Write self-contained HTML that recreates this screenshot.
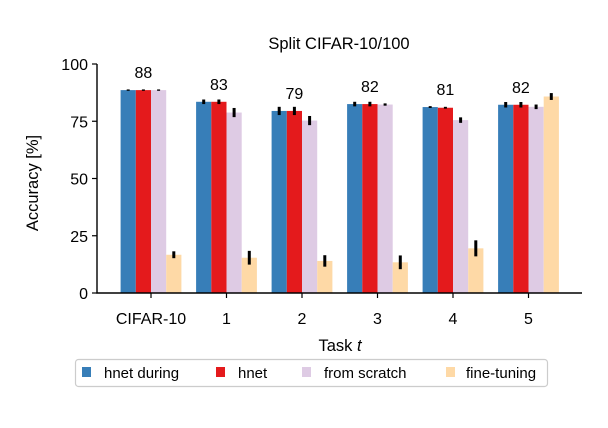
<!DOCTYPE html>
<html><head><meta charset="utf-8"><style>
body{margin:0;background:#fff}
svg text{font-family:"Liberation Sans",sans-serif;fill:#000}
</style></head><body>
<svg id="c" width="608" height="423" viewBox="0 0 608 423">
<text x="339" y="49" font-size="16.5" text-anchor="middle">Split CIFAR-10/100</text>
<g id="plot"></g>
<text x="340" y="351" font-size="16.5" text-anchor="middle">Task <tspan font-style="italic">t</tspan></text>
<text transform="translate(38,183) rotate(-90)" font-size="16.5" text-anchor="middle">Accuracy [%]</text>
<g>
<rect x="75.5" y="359.5" width="472" height="27" rx="3" fill="#fff" stroke="#ccc" stroke-width="1.2"/>
<rect x="82" y="367" width="9" height="10" fill="#377eb8"/><text x="104" y="378" font-size="15">hnet during</text>
<rect x="216" y="367" width="9" height="10" fill="#e41a1c"/><text x="238" y="378" font-size="15">hnet</text>
<rect x="302" y="367" width="9" height="10" fill="#decbe4"/><text x="324" y="378" font-size="15">from scratch</text>
<rect x="446" y="367" width="9" height="10" fill="#fed9a6"/><text x="466" y="378" font-size="15">fine-tuning</text>
</g>
</svg>
<script>
const categories=["CIFAR-10","1","2","3","4","5"];
const hnetDuring=[88.6,83.5,79.5,82.5,81.2,82.2];
const hnet=[88.6,83.5,79.5,82.5,80.9,82.2];
const fromScratch=[88.6,78.8,75.3,82.3,75.5,81.3];
const fineTuning=[16.7,15.4,14.0,13.4,19.5,85.8];
const errDuring=[0.3,1.0,1.8,1.0,0.4,1.2];
const errHnet=[0.3,1.0,1.8,1.0,0.4,1.2];
const errScratch=[0.3,2.0,2.0,0.5,1.2,1.0];
const errFine=[1.5,3.0,2.5,3.0,3.5,1.5];
const topLabels=["88","83","79","82","81","82"];
const yTicks=[0,25,50,75,100];
const series=[[hnetDuring,errDuring,"#377eb8","hnet-during"],[hnet,errHnet,"#e41a1c","hnet"],[fromScratch,errScratch,"#decbe4","from-scratch"],[fineTuning,errFine,"#fed9a6","fine-tuning"]];
const NS="http://www.w3.org/2000/svg";
const g=document.getElementById("plot");
const y=v=>293-v*2.29;
const xc=i=>151+i*75.5;
const bw=15.2;
function mk(t,a){const e=document.createElementNS(NS,t);for(const k in a)e.setAttribute(k,a[k]);g.appendChild(e);return e;}
categories.forEach((c,i)=>{
  series.forEach((s,j)=>{
    const x0=xc(i)-2*bw+j*bw,v=s[0][i],er=s[1][i];
    const r=mk("rect",{x:x0,y:y(v),width:bw,height:y(0)-y(v),fill:s[2]});
    
    
    const l=mk("line",{x1:x0+bw/2,x2:x0+bw/2,y1:y(v+er),y2:y(v-er),stroke:"#000","stroke-width":3});
    
    
  });
  const t=mk("text",{x:xc(i)-bw/2,y:y(Math.max(hnetDuring[i],fromScratch[i]))-12,"font-size":16,"text-anchor":"middle"});
  t.textContent=topLabels[i];
  
  
  const tk=mk("line",{x1:xc(i),x2:xc(i),y1:293,y2:298,stroke:"#000","stroke-width":1.2});
  
  
  const tl=mk("text",{x:xc(i),y:324,"font-size":16,"text-anchor":"middle"});
  tl.textContent=c;
  
  
});
yTicks.forEach(v=>{
  const tk=mk("line",{x1:92,x2:97,y1:y(v),y2:y(v),stroke:"#000","stroke-width":1.2});
  
  
  const tl=mk("text",{x:88,y:y(v)+6,"font-size":16,"text-anchor":"end"});
  tl.textContent=v;
  
  
});
const ax=mk("path",{d:"M97,64V293H582",fill:"none",stroke:"#000","stroke-width":1.4});


</script>
</body></html>
